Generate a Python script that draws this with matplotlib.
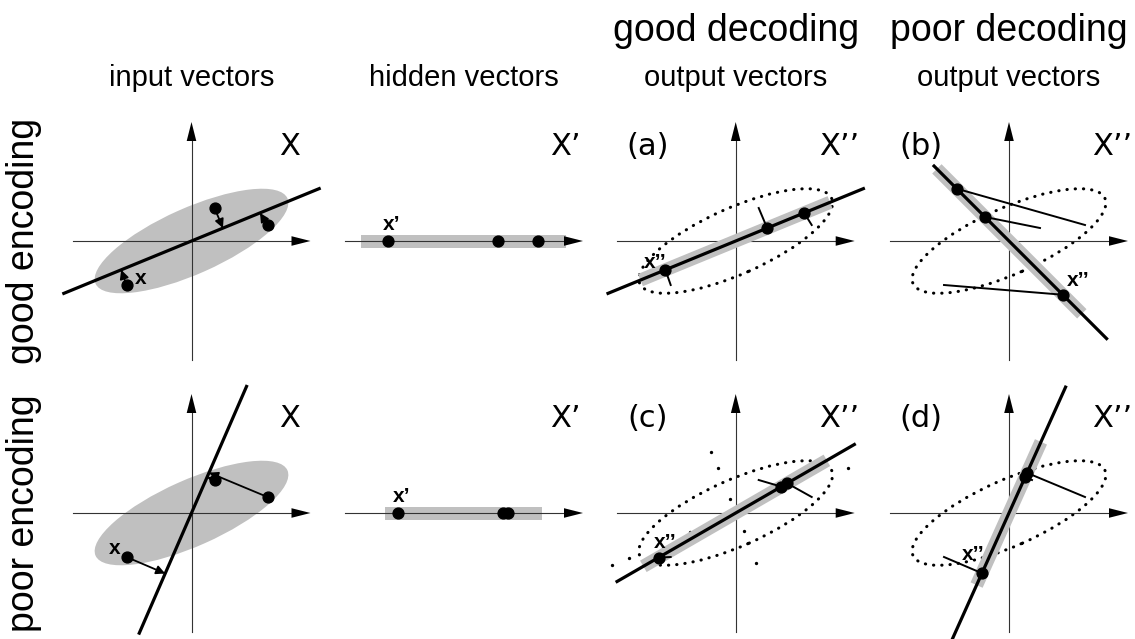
import numpy as np
import matplotlib.pyplot as plt
from matplotlib.patches import Ellipse, Rectangle

plt.rcParams['font.family'] = ['Liberation Sans', 'DejaVu Sans']

# --- data (local panel units, about 1 px each, y pointing up) ---
inputs_x = [-65, 23, 76]          # the labelled point "x" comes first
inputs_y = [-44, 33, 16]
enc_angle = [22.3, 66.5]          # encoder direction, good / poor encoding
enc_extent = [(-138, 138), (-131, 138)]
hidden_vals = [[-76, 34, 74], [-66, 39, 44]]
hidden_band = [(-103, 102), (-79, 78)]
data_ellipse = (210, 66, 24)      # width, height, angle of the input cloud

# output panels (a) (b) (c) (d)
dec_angle = [22.3, 135, 30, 65.8]
dec_gain = [1.0, 1.0, 1.35, 1.0]
dec_extent = [(-138, 138), (-138, 106), (-137, 137), (-138, 138)]
# residual end points that differ from the inputs (panel b, middle point)
targets_b_x = [-65, 31, 76]
targets_b_y = [-44, 13, 16]
# stray dots in panel (c)
stray_x = [-25, -18, -6, 8, 20, -124, -107, 112, -46]
stray_y = [61, 45, 14, -18, -50, -52, -45, 45, -19]

row_titles = ['good encoding', 'poor encoding']
col_titles = ['input vectors', 'hidden vectors', 'output vectors', 'output vectors']
top_titles = ['good decoding', 'poor decoding']
panel_tags = ['(a)', '(b)', '(c)', '(d)']

W, H = 1135, 639
col_x = [191.5, 464, 735.7, 1009]
row_y = [241, 513]

fig = plt.figure(figsize=(W / 100, H / 100), dpi=100)
GRAY = '#c0c0c0'
LABEL_FONT = ['DejaVu Sans']


def panel(cx, cy, r=135):
    ax = fig.add_axes([(cx - r) / W, 1 - (cy + r) / H, 2 * r / W, 2 * r / H])
    ax.set_xlim(-r, r)
    ax.set_ylim(-r, r)
    ax.axis('off')
    return ax


def arrow_line(ax, x0, y0, x1, y1, hl=19, hw=4.8):
    d = np.array([x1 - x0, y1 - y0], float)
    d /= np.hypot(*d)
    n = np.array([-d[1], d[0]])
    tip = np.array([x1, y1])
    base = tip - hl * d
    ax.plot([x0, base[0]], [y0, base[1]], color='#333333', lw=0.8, zorder=2)
    tri = np.array([tip, base + hw * n, base - hw * n])
    ax.fill(tri[:, 0], tri[:, 1], color='k', lw=0, zorder=2)


def coord_axes(ax, vertical=True):
    arrow_line(ax, -119, 0, 119, 0)
    if vertical:
        arrow_line(ax, 0, -119, 0, 119)


def unit(deg):
    a = np.radians(deg)
    return np.array([np.cos(a), np.sin(a)])


def big_label(ax, s, x=88, y=86):
    ax.text(x, y, s, fontsize=22, family=LABEL_FONT, ha='left', va='baseline')


px = np.array(inputs_x, float)
py = np.array(inputs_y, float)

for r in range(2):
    cy = row_y[r]
    h = np.array(hidden_vals[r], float)

    # input vectors
    ax = panel(col_x[0], cy)
    w, hh, ang = data_ellipse
    ax.add_patch(Ellipse((0, 0), w, hh, angle=ang, fc=GRAY, ec='none', zorder=1))
    coord_axes(ax)
    u = unit(enc_angle[r])
    t = np.array(enc_extent[r], float)
    ax.plot(t * u[0], t * u[1], color='k', lw=2.3, zorder=3)
    for i in range(3):
        ax.annotate('', xy=(h[i] * u[0], h[i] * u[1]), xytext=(px[i], py[i]),
                    arrowprops=dict(arrowstyle='-|>', color='k', lw=1.3,
                                    mutation_scale=13, shrinkA=0, shrinkB=0),
                    zorder=4)
    ax.plot(px, py, 'o', color='k', ms=7.8, zorder=5)
    if r == 0:
        ax.text(-51, -37, 'x', fontsize=15, fontweight='bold', ha='center', va='center')
    else:
        ax.text(-77, -36, 'x', fontsize=15, fontweight='bold', ha='center', va='center')
    big_label(ax, 'X')

    # hidden vectors
    ax = panel(col_x[1], cy)
    lo, hi = hidden_band[r]
    ax.add_patch(Rectangle((lo, -6.5), hi - lo, 13, fc=GRAY, ec='none', zorder=1))
    coord_axes(ax, vertical=False)
    ax.plot(h, np.zeros_like(h), 'o', color='k', ms=7.8, zorder=5)
    ax.text(h[0] + 4, 16, 'x\u2019', fontsize=15, fontweight='bold', ha='center', va='center')
    big_label(ax, 'X\u2019', x=86)

    # output vectors
    for c in range(2):
        k = 2 * r + c
        ax = panel(col_x[2 + c], cy)
        ell = Ellipse((0, 0), w, hh, angle=ang, fill=False, ec='k',
                      lw=2.2, ls=(0, (0.1, 2.6)), zorder=1)
        ell.set_capstyle('round')
        ax.add_patch(ell)
        coord_axes(ax)
        v = unit(dec_angle[k])
        g = dec_gain[k]
        blo, bhi = hidden_band[r]
        bt = g * np.array([blo, bhi])
        ax.plot(bt * v[0], bt * v[1], color=GRAY, lw=9.5, solid_capstyle='butt', zorder=3)
        t = np.array(dec_extent[k], float)
        ax.plot(t * v[0], t * v[1], color='k', lw=2.3, zorder=4)
        ox = g * h * v[0]
        oy = g * h * v[1]
        if k == 1:
            tx, ty = targets_b_x, targets_b_y
        else:
            tx, ty = px, py
        for i in range(3):
            ax.plot([ox[i], tx[i]], [oy[i], ty[i]], color='k', lw=1.4, zorder=4)
        ax.plot(ox, oy, 'o', color='k', ms=7.8, zorder=5)
        if k == 2:
            ax.plot(stray_x, stray_y, 'o', color='k', ms=2.4, mew=0, zorder=2)
        lab_pos = [(-81, -22), (69, -39), (-71, -29), (-36, -42)][k]
        ax.text(lab_pos[0], lab_pos[1], 'x\u2019\u2019', fontsize=15, fontweight='bold',
                ha='center', va='center', zorder=6)
        ax.text(-88, 86, panel_tags[k], fontsize=22, family=LABEL_FONT,
                ha='center', va='baseline')
        big_label(ax, 'X\u2019\u2019', x=83)

# titles
for i, s in enumerate(col_titles):
    fig.text(col_x[i] / W, 1 - 86 / H, s, fontsize=21, ha='center', va='baseline')
for i, s in enumerate(top_titles):
    fig.text(col_x[2 + i] / W, 1 - 41 / H, s, fontsize=27, ha='center', va='baseline')
for i, s in enumerate(row_titles):
    fig.text(24 / W, 1 - row_y[i] / H, s, fontsize=27, rotation=90,
             ha='center', va='center')

fig.savefig('out.png', dpi=100)
